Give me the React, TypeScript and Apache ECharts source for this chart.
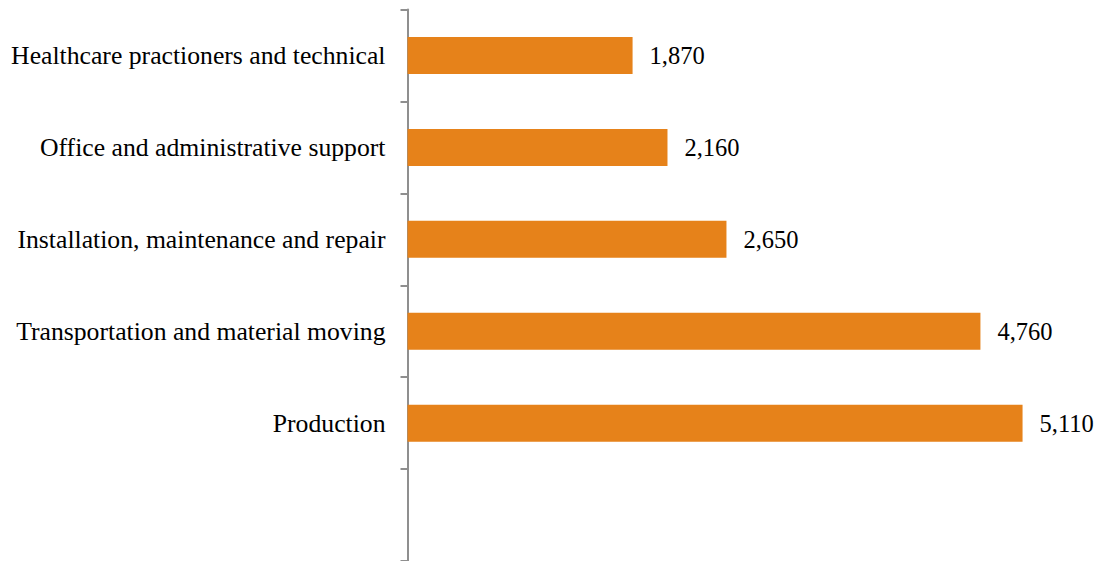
import React, { useEffect, useRef } from "react";
import * as echarts from "echarts";

const categories = [
  "",
  "Production",
  "Transportation and material moving",
  "Installation, maintenance and repair",
  "Office and administrative support",
  "Healthcare practioners and technical",
];
const values: (number | null)[] = [null, 5110, 4760, 2650, 2160, 1870];

export default function App() {
  const ref = useRef<HTMLDivElement>(null);
  useEffect(() => {
    if (!ref.current) return;
    const chart = echarts.init(ref.current, undefined, { renderer: "svg" });
    chart.setOption({
      animation: false,
      grid: { left: 407.5, top: 9.5, width: 662, height: 553, containLabel: false },
      xAxis: {
        type: "value",
        min: 0,
        max: 5500,
        show: false,
      },
      yAxis: {
        type: "category",
        data: categories,
        boundaryGap: true,
        axisLine: { show: true, lineStyle: { color: "#8f8f8f", width: 2 } },
        axisTick: { show: true, length: 7, lineStyle: { color: "#8f8f8f", width: 2 } },
        axisLabel: {
          margin: 22,
          color: "#000",
          fontFamily: "'Liberation Serif', 'Times New Roman', serif",
          fontSize: 25.7,
        },
        splitLine: { show: false },
      },
      series: [
        {
          type: "bar",
          data: values,
          barWidth: 37,
          itemStyle: { color: "#E6821A" },
          label: {
            show: true,
            position: "right",
            distance: 17,
            color: "#000",
            fontFamily: "'Liberation Serif', 'Times New Roman', serif",
            fontSize: 24.5,
            formatter: (p: any) =>
              p.value == null ? "" : Number(p.value).toLocaleString("en-US"),
          },
        },
      ],
    });
    return () => chart.dispose();
  }, []);
  return (
    <div
      ref={ref}
      style={{ position: "absolute", left: 0, top: 0, width: 1106, height: 561 }}
    />
  );
}
